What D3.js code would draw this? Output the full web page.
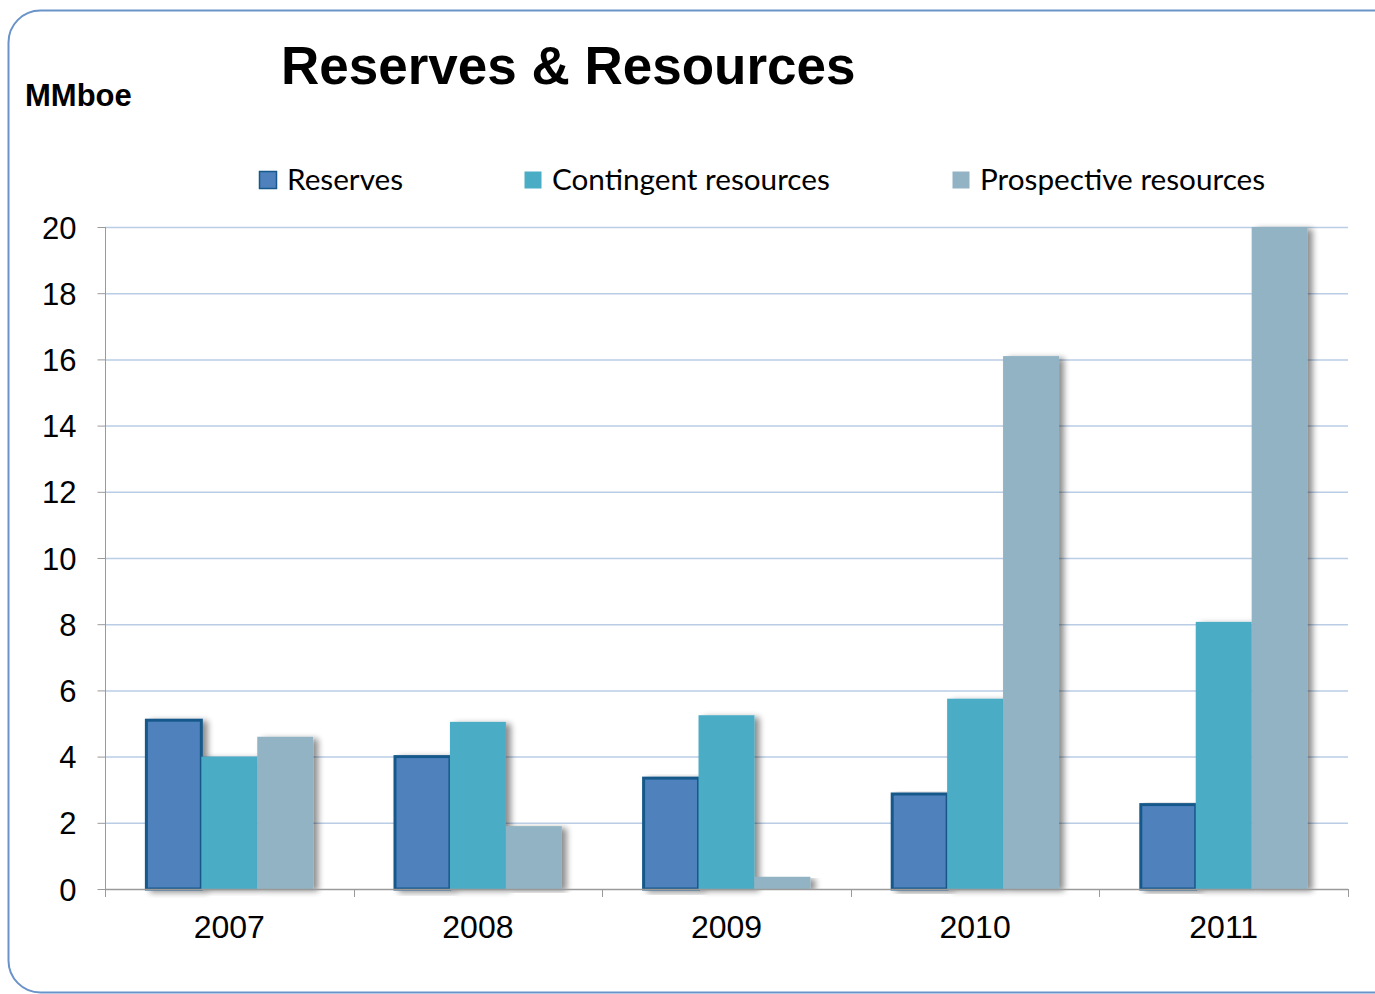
<!DOCTYPE html>
<html><head><meta charset="utf-8">
<script src="https://cdn.jsdelivr.net/npm/d3@7"></script>
<style>body{margin:0;background:#fff}svg{display:block}</style>
</head><body>
<script>
const years = ["2007","2008","2009","2010","2011"];
const seriesNames = ["Reserves","Contingent resources","Prospective resources"];
const reserves = [5.1, 4.0, 3.35, 2.87, 2.55];
const contingent = [4.0, 5.05, 5.25, 5.75, 8.07];
const prospective = [4.6, 1.9, 0.37, 16.1, 20.0];
const yTicks = [0,2,4,6,8,10,12,14,16,18,20];
const colors = ["#4F81BD","#4BACC6","#91B3C3"];
const strokes = ["#17598A", null, null];

const W=1375,H=994;
const svg=d3.select("body").append("svg").attr("width",W).attr("height",H);
const defs=svg.append("defs");
const f=defs.append("filter").attr("id","sh").attr("x","-20%").attr("y","-5%").attr("width","160%").attr("height","110%");
f.append("feGaussianBlur").attr("in","SourceAlpha").attr("stdDeviation",3);
f.append("feOffset").attr("dx",5).attr("dy",2).attr("result","b");
f.append("feComponentTransfer").append("feFuncA").attr("type","linear").attr("slope",0.45);
const fm=f.append("feMerge");fm.append("feMergeNode");fm.append("feMergeNode").attr("in","SourceGraphic");

svg.append("rect").attr("x",8.5).attr("y",10.5).attr("width",1400).attr("height",982).attr("rx",32)
  .attr("fill","#fff").attr("stroke","#6A93C9").attr("stroke-width",2);

const x0=d3.scaleBand().domain(years).range([105,1348]).paddingInner(0.325).paddingOuter(0.1625);
const x1=d3.scaleBand().domain(seriesNames).range([0,x0.bandwidth()]);
const y=d3.scaleLinear().domain([0,20]).range([889,227]);

// gridlines
svg.append("g").selectAll("line").data(yTicks.filter(d=>d>0)).join("line")
  .attr("x1",105).attr("x2",1348).attr("y1",d=>y(d)+0.5).attr("y2",d=>y(d)+0.5)
  .attr("stroke","#B9CDE5").attr("stroke-width",1.5);

// y axis
const ya=svg.append("g").attr("transform","translate(105.5,0)").call(d3.axisLeft(y).tickValues(yTicks).tickSize(8).tickPadding(21));
ya.select(".domain").attr("stroke","#9a9a9a").attr("d","M0,"+y(20)+"V"+y(0));
ya.selectAll(".tick line").attr("stroke","#9a9a9a");
ya.selectAll("text").attr("font-family","Liberation Sans, Arial").attr("font-size",31).attr("fill","#000").attr("dy","0.36em");

const data=[reserves,contingent,prospective];
const g=svg.append("g");
years.forEach((yr,i)=>{
  seriesNames.forEach((s,j)=>{
    const v=data[j][i];
    g.append("rect").attr("x",x0(yr)+x1(s)+(j===0?1:0)).attr("y",y(v)).attr("width",x1.bandwidth()-(j===0?1:0)).attr("height",y(0)-y(v))
      .attr("fill",colors[j]).attr("filter","url(#sh)")
      .attr("stroke",strokes[j]||"none").attr("stroke-width",strokes[j]?3:0);
  });
});

// x axis
const xa=svg.append("g").attr("transform","translate(0,889.5)").call(d3.axisBottom(x0).tickSize(0).tickPadding(26));
xa.select(".domain").attr("stroke","#9a9a9a").attr("stroke-width",1.5).attr("d","M105,0H1348");
xa.selectAll("text").attr("font-family","Liberation Sans, Arial").attr("font-size",32).attr("fill","#000");
const edges=years.map(yr=>x0(yr)-x0.step()*x0.paddingInner()/2).concat([1348]);
svg.append("g").selectAll("line").data(edges).join("line")
  .attr("x1",d=>Math.round(d)+0.5).attr("x2",d=>Math.round(d)+0.5).attr("y1",889).attr("y2",897)
  .attr("stroke","#9a9a9a");

// title
svg.append("text").attr("x",281).attr("y",84).text("Reserves & Resources")
  .attr("font-family","Liberation Sans, Arial").attr("font-weight","bold").attr("font-size",53).attr("fill","#000");
svg.append("text").attr("x",25).attr("y",106).text("MMboe")
  .attr("font-family","Liberation Sans, Arial").attr("font-weight","bold").attr("font-size",31).attr("fill","#000");

// legend
const lx=[259,524,952];
const lg=svg.append("g");
seriesNames.forEach((s,j)=>{
  lg.append("rect").attr("x",lx[j]+0.5).attr("y",171.5).attr("width",17).attr("height",17)
    .attr("fill",colors[j]).attr("stroke",j===0?"#17598A":"none").attr("stroke-width",1.5);
  lg.append("text").attr("x",lx[j]+28).attr("y",190).text(s)
    .attr("font-family","Lato, Open Sans, sans-serif").attr("font-size",29.7).attr("fill","#000");
});
</script>
</body></html>
